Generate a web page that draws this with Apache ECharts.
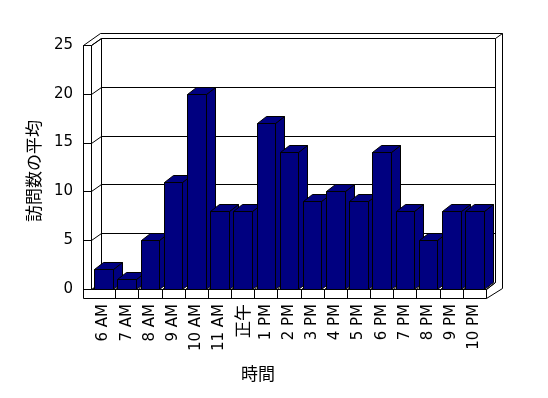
<!DOCTYPE html>
<html><head><meta charset="utf-8">
<script src="https://cdn.jsdelivr.net/npm/echarts@6/dist/echarts.min.js"></script>
<style>html,body{margin:0;padding:0;background:#fff}#c{width:548px;height:398px}</style>
</head><body><div id="c"></div>
<script>
const categories = ['6 AM','7 AM','8 AM','9 AM','10 AM','11 AM','正午','1 PM','2 PM','3 PM','4 PM','5 PM','6 PM','7 PM','8 PM','9 PM','10 PM'];
const values = [2,1,5,11,20,8,8,17,14,9,10,9,14,8,5,8,8];
const yTicks = [0,5,10,15,20,25];
const yName = '訪問数の平均';
const xName = '時間';

const DX = 9, DY = -7;
const BAR_COLOR = '#000080';
const FONT = '"DejaVu Sans", sans-serif';
const CJK = '"Noto Sans CJK JP", sans-serif';

function p(v){ return Math.round(v) + 0.5; }
function seg(a, b){
  return {type:'line', shape:{x1:p(a[0]), y1:p(a[1]), x2:p(b[0]), y2:p(b[1])},
    style:{stroke:'#000', lineWidth:1}, silent:true};
}
function poly(pts){
  return {type:'polyline', shape:{points:pts.map(q=>[p(q[0]),p(q[1])])},
    style:{stroke:'#000', lineWidth:1, fill:null}, silent:true};
}

const chart = echarts.init(document.getElementById('c'), null, {renderer:'canvas'});

function renderFrame(params, api){
  const cs = params.coordSys;
  const L = cs.x, R = cs.x + cs.width, T = cs.y, B = cs.y + cs.height;
  const n = categories.length, bw = cs.width / n;
  const els = [];
  els.push(seg([L+DX, T+DY], [R+DX, T+DY]));
  els.push(seg([R+DX, T+DY], [R+DX, B+DY]));
  els.push(seg([L+DX, T+DY], [L+DX, B+DY]));
  els.push(seg([L+DX-1, T+DY-5], [R+DX+7, T+DY-5]));
  els.push(seg([R+DX+7, T+DY-5], [R+DX+7, B+DY+6]));
  els.push(seg([R+DX, T+DY], [R+DX+7, T+DY-5]));
  els.push(seg([L-9, T], [L+DX-1, T+DY-5]));
  els.push(seg([L-1, T], [L+DX, T+DY]));
  els.push(seg([L-9, T], [L-1, T]));
  els.push(seg([L-9, T], [L-9, B+9]));
  els.push(seg([L-1, T], [L-1, B]));
  yTicks.forEach(v => {
    const y = api.coord([0, v])[1];
    if (v > 0 && v < 25) els.push(seg([L+DX, y+DY], [R+DX, y+DY]));
    els.push(poly([[L+DX, y+DY], [L-1, y], [L-9, y]]));
  });
  els.push(seg([L-1, B], [R, B]));
  els.push(seg([L-9, B+9], [R, B+9]));
  els.push(seg([R, B], [R, B+9]));
  els.push(seg([R, B], [R+DX, B+DY]));
  els.push(seg([R, B+9], [R+DX+7, B+DY+6]));
  for (let k = 0; k <= n; k++) {
    const x = L + k*bw;
    if (k > 0 && k < n) els.push(seg([x, B], [x, B+9]));
    els.push(seg([x, B], [x+DX, B+DY]));
  }
  return {type:'group', children:els};
}

function renderBar(params, api){
  const idx = api.value(0), v = api.value(1);
  const top = api.coord([idx, v]);
  const base = api.coord([idx, 0]);
  const w = api.size([1, 0])[0] * 0.8;
  const x0 = Math.round(top[0] - w/2), x1 = Math.round(top[0] + w/2);
  const yt = Math.round(top[1]), yb = Math.round(base[1]);
  const st = {fill:BAR_COLOR, stroke:'#000', lineWidth:1};
  const q = a => a.map(z => [z[0]+0.5, z[1]+0.5]);
  return {type:'group', children:[
    {type:'polygon', shape:{points:q([[x1,yt],[x1+DX,yt+DY],[x1+DX,yb+DY],[x1,yb]])}, style:st},
    {type:'polygon', shape:{points:q([[x0,yt],[x1,yt],[x1+DX,yt+DY],[x0+DX,yt+DY]])}, style:st},
    {type:'polygon', shape:{points:q([[x0,yt],[x1,yt],[x1,yb],[x0,yb]])}, style:st}
  ]};
}

chart.setOption({
  animation:false,
  backgroundColor:'#fff',
  grid:{left:92, right:62, top:45, bottom:109, containLabel:false},
  xAxis:{type:'category', data:categories,
    axisLine:{show:false}, axisTick:{show:false},
    axisLabel:{rotate:90, margin:15, fontSize:15, color:'#000', fontFamily:FONT, interval:0,
      formatter: v => /[^\x00-\x7f]/.test(v) ? '{c|' + v + '}' : v,
      rich:{c:{fontSize:17, fontFamily:CJK, color:'#000'}}}},
  yAxis:{type:'value', min:0, max:25, interval:5,
    axisLine:{show:false}, axisTick:{show:false}, splitLine:{show:false},
    axisLabel:{margin:19, fontSize:15, color:'#000', fontFamily:FONT}},
  series:[
    {type:'custom', z:1, renderItem:renderFrame, data:[[0,0]], silent:true, clip:false},
    {type:'custom', z:2, renderItem:renderBar, data:values.map((v,i)=>[i,v]), clip:false}
  ],
  graphic:[
    {type:'text', left:25, top:120, rotation:Math.PI/2, style:{text:yName, font:'17px '+CJK, fill:'#000'}},
    {type:'text', left:241, top:365, style:{text:xName, font:'17px '+CJK, fill:'#000'}}
  ]
});
</script></body></html>
